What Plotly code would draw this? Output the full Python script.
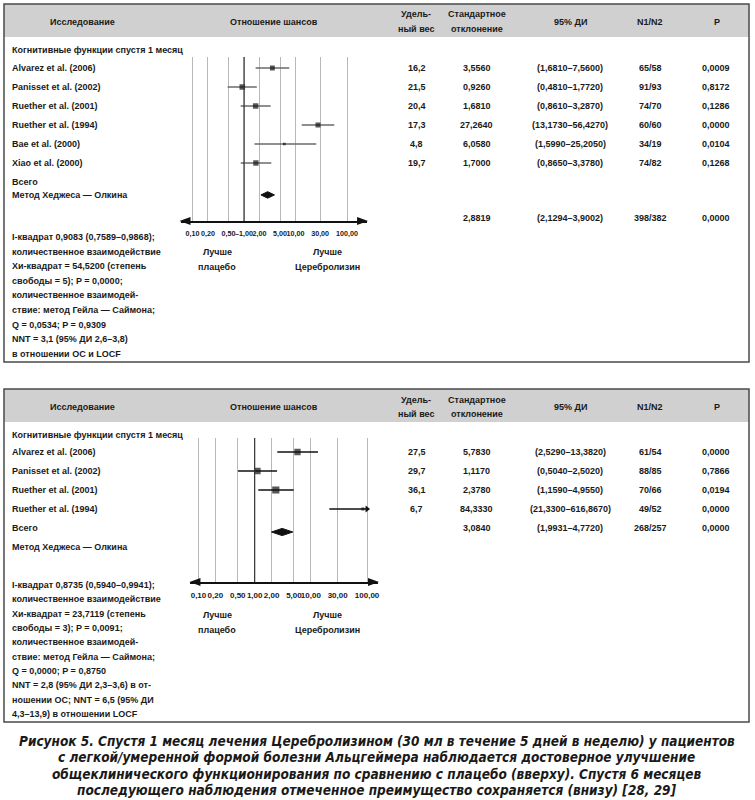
import plotly.graph_objects as go

W, H = 755, 800
FONT = "Liberation Sans, Arial, sans-serif"
CAPFONT = "DejaVu Sans Condensed, Liberation Sans, sans-serif"
TXT = "#1a1a1a"

# ---------------- data: top panel ----------------
top_studies = ["Alvarez et al. (2006)", "Panisset et al. (2002)", "Ruether et al. (2001)",
               "Ruether et al. (1994)", "Bae et al. (2000)", "Xiao et al. (2000)"]
top_weight = [16.2, 21.5, 20.4, 17.3, 4.8, 19.7]
top_or = [3.5560, 0.9260, 1.6810, 27.2640, 6.0580, 1.7000]
top_lo = [1.6810, 0.4810, 0.8610, 13.1730, 1.5990, 0.8650]
top_hi = [7.5600, 1.7720, 3.2870, 56.4270, 25.2050, 3.3780]
top_weight_txt = ["16,2", "21,5", "20,4", "17,3", "4,8", "19,7"]
top_or_txt = ["3,5560", "0,9260", "1,6810", "27,2640", "6,0580", "1,7000"]
top_ci_txt = ["(1,6810–7,5600)", "(0,4810–1,7720)", "(0,8610–3,2870)",
              "(13,1730–56,4270)", "(1,5990–25,2050)", "(0,8650–3,3780)"]
top_n_txt = ["65/58", "91/93", "74/70", "60/60", "34/19", "74/82"]
top_p_txt = ["0,0009", "0,8172", "0,1286", "0,0000", "0,0104", "0,1268"]
top_total = dict(est=2.8819, lo=2.1294, hi=3.9002, or_txt="2,8819",
                 ci_txt="(2,1294–3,9002)", n_txt="398/382", p_txt="0,0000")
top_ticktext = ["0,10", "0,20", "0,50", "–1,00", "2,00", "5,00", "10,00", "30,00", "100,00"]
top_notes = ["I-квадрат 0,9083 (0,7589–0,9868);",
             "количественное взаимодействие",
             "Хи-квадрат = 54,5200 (степень",
             "свободы = 5); P = 0,0000;",
             "количественное взаимодей-",
             "ствие: метод Гейла — Саймона;",
             "Q = 0,0534; P = 0,9309",
             "NNT = 3,1 (95% ДИ 2,6–3,8)",
             "в отношении ОС и LOCF"]

# ---------------- data: bottom panel ----------------
bot_studies = ["Alvarez et al. (2006)", "Panisset et al. (2002)", "Ruether et al. (2001)",
               "Ruether et al. (1994)"]
bot_weight = [27.5, 29.7, 36.1, 6.7]
bot_or = [5.7830, 1.1170, 2.3780, 84.3330]
bot_lo = [2.5290, 0.5040, 1.1590, 21.3300]
bot_hi = [13.3820, 2.5020, 4.9550, 616.8670]
bot_weight_txt = ["27,5", "29,7", "36,1", "6,7"]
bot_or_txt = ["5,7830", "1,1170", "2,3780", "84,3330"]
bot_ci_txt = ["(2,5290–13,3820)", "(0,5040–2,5020)", "(1,1590–4,9550)", "(21,3300–616,8670)"]
bot_n_txt = ["61/54", "88/85", "70/66", "49/52"]
bot_p_txt = ["0,0000", "0,7866", "0,0194", "0,0000"]
bot_total = dict(est=3.0840, lo=1.9931, hi=4.7720, or_txt="3,0840",
                 ci_txt="(1,9931–4,7720)", n_txt="268/257", p_txt="0,0000")
bot_ticktext = ["0,10", "0,20", "0,50", "1,00", "2,00", "5,00", "10,00", "30,00", "100,00"]
bot_notes = ["I-квадрат 0,8735 (0,5940–0,9941);",
             "количественное взаимодействие",
             "Хи-квадрат = 23,7119 (степень",
             "свободы = 3); P = 0,0091;",
             "количественное взаимодей-",
             "ствие: метод Гейла — Саймона;",
             "Q = 0,0000; P = 0,8750",
             "NNT = 2,8 (95% ДИ 2,3–3,6) в от-",
             "ношении ОС; NNT = 6,5 (95% ДИ",
             "4,3–13,9) в отношении LOCF"]

tickvals = [0.1, 0.2, 0.5, 1, 2, 5, 10, 30, 100]
header_cols = [("Исследование",), ("Отношение шансов",), ("Удель-", "ный вес"),
               ("Стандартное", "отклонение"), ("95% ДИ",), ("N1/N2",), ("P",)]
section_title = "Когнитивные функции спустя 1 месяц"
total_label = "Всего"
method_label = "Метод Хеджеса — Олкина"
better_left = ("Лучше", "плацебо")
better_right = ("Лучше", "Церебролизин")
caption = ["Рисунок 5. Спустя 1 месяц лечения Церебролизином (30 мл в течение 5 дней в неделю) у пациентов",
           "с легкой/умеренной формой болезни Альцгеймера наблюдается достоверное улучшение",
           "общеклинического функционирования по сравнению с плацебо (вверху). Спустя 6 месяцев",
           "последующего наблюдения отмеченное преимущество сохраняется (внизу) [28, 29]"]

# ---------------- helpers ----------------
def px(x):
    return x / W

def py(y):
    return 1 - y / H

fig = go.Figure()
ann = []
shapes = []

def text(x, y, s, size=9, anchor="center", yref="paper", xref="paper", bold=True, italic=False, family=FONT):
    t = s
    if italic:
        t = "<i>" + t + "</i>"
    if bold:
        t = "<b>" + t + "</b>"
    ann.append(dict(x=x, y=y, xref=xref, yref=yref, text=t, showarrow=False,
                    xanchor=anchor, yanchor="middle",
                    font=dict(family=family, size=size, color=TXT)))

# column centres (px)
COLX = [83, 275, 417, 478, 572, 652, 719]
COLX_DATA = [418, 478, 572, 652, 718]

def panel(idx, box_top, box_bot, studies, weights, ors, los, his, wtxt, ortxt, citxt, ntxt, ptxt,
          total, ticktext, notes, ydom_px, yrange, xdom_px, xrange_log, total_row, diamond_row,
          method_row, total_text_row, notes_y0, notes_dy, better_y, line_col, dhalf, tick_size):
    xa = "x" if idx == 1 else "x2"
    ya = "y" if idx == 1 else "y2"
    # box and header band
    shapes.append(dict(type="rect", xref="paper", yref="paper", x0=px(4), x1=px(751),
                       y0=py(box_top), y1=py(box_top + 33), fillcolor="#d0d0d0", line=dict(width=0),
                       layer="below"))
    shapes.append(dict(type="rect", xref="paper", yref="paper", x0=px(4), x1=px(751),
                       y0=py(box_top), y1=py(box_bot), line=dict(color="#4a4a4a", width=1.5)))
    # header
    hy = box_top + 18
    for cx, lines in zip(COLX, header_cols):
        if len(lines) == 1:
            text(px(cx), py(hy), lines[0])
        else:
            text(px(cx), py(hy - 7.5), lines[0])
            text(px(cx), py(hy + 7.5), lines[1])
    # section title
    text(px(10), py(box_top + 46), section_title, anchor="left")
    rows = list(range(1, len(studies) + 1))
    # study rows
    for r, s, a, b, c, d, e in zip(rows, studies, wtxt, ortxt, citxt, ntxt, ptxt):
        text(px(10), r, s, anchor="left", yref=ya)
        for cx, v in zip(COLX_DATA, [a, b, c, d, e]):
            text(px(cx), r, v, yref=ya)
    text(px(10), total_row, total_label, anchor="left", yref=ya)
    text(px(10), method_row, method_label, anchor="left", yref=ya)
    for cx, v in zip(COLX_DATA[1:], [total["or_txt"], total["ci_txt"], total["n_txt"], total["p_txt"]]):
        text(px(cx), total_text_row, v, yref=ya)
    # notes
    for i, line in enumerate(notes):
        text(px(10), py(notes_y0 + i * notes_dy), line, anchor="left")
    # better labels
    text(px(218), py(better_y), better_left[0])
    text(px(218), py(better_y + 14.5), better_left[1])
    text(px(328), py(better_y), better_right[0])
    text(px(328), py(better_y + 14.5), better_right[1])

    # CI lines
    xmax = max(tickvals)
    for r, lo, hi in zip(rows, los, his):
        fig.add_trace(go.Scatter(x=[lo, min(hi, xmax)], y=[r, r], mode="lines",
                                 line=dict(color=line_col, width=1.6), xaxis=xa, yaxis=ya,
                                 showlegend=False, hoverinfo="skip"))
        if hi > xmax:
            fig.add_trace(go.Scatter(x=[xmax], y=[r], mode="markers",
                                     marker=dict(symbol="triangle-right", size=6, color="#111"),
                                     xaxis=xa, yaxis=ya, showlegend=False, hoverinfo="skip"))
    # squares
    fig.add_trace(go.Scatter(x=ors, y=rows, mode="markers",
                             marker=dict(symbol="square", color="#111",
                                         size=[1.2 * w ** 0.5 for w in weights], line=dict(width=0)),
                             xaxis=xa, yaxis=ya, showlegend=False, hoverinfo="skip"))
    # diamond
    fig.add_trace(go.Scatter(x=[total["lo"], total["est"], total["hi"], total["est"], total["lo"]],
                             y=[diamond_row, diamond_row - dhalf, diamond_row, diamond_row + dhalf, diamond_row],
                             mode="lines", fill="toself", fillcolor="#111", line=dict(color="#111", width=1),
                             xaxis=xa, yaxis=ya, showlegend=False, hoverinfo="skip"))
    # reference line at 1
    shapes.append(dict(type="line", xref=xa, yref=ya + " domain", x0=1, x1=1, y0=0, y1=1,
                       line=dict(color="#333", width=1.2)))
    # arrow heads on axis
    ay = ydom_px[1]
    l, rr = xdom_px
    shapes.append(dict(type="path", xref="paper", yref="paper",
                       path=f"M {px(l-1)},{py(ay)} L {px(l+10)},{py(ay-4)} L {px(l+10)},{py(ay+4)} Z",
                       fillcolor="#111", line=dict(width=0)))
    shapes.append(dict(type="path", xref="paper", yref="paper",
                       path=f"M {px(rr+1)},{py(ay)} L {px(rr-10)},{py(ay-4)} L {px(rr-10)},{py(ay+4)} Z",
                       fillcolor="#111", line=dict(width=0)))

    axis_x = dict(type="log", domain=[px(xdom_px[0]), px(xdom_px[1])], range=xrange_log,
                  tickvals=tickvals, ticktext=ticktext, tickangle=0, ticks="",
                  tickfont=dict(family=FONT, size=tick_size, color=TXT, weight="bold"),
                  showgrid=True, gridcolor="#b8b8b8", gridwidth=1,
                  showline=True, linecolor="#111", linewidth=2, anchor=ya,
                  ticklabelstandoff=4, fixedrange=True)
    axis_y = dict(domain=[py(ydom_px[1]), py(ydom_px[0])], range=yrange, visible=False,
                  anchor=xa, fixedrange=True)
    return axis_x, axis_y

ax1, ay1 = panel(1, 4, 362, top_studies, top_weight, top_or, top_lo, top_hi, top_weight_txt,
                 top_or_txt, top_ci_txt, top_n_txt, top_p_txt, top_total, top_ticktext, top_notes,
                 ydom_px=(57, 221), yrange=[9.053, 0.421], xdom_px=(181, 368),
                 xrange_log=[-1.232, 2.387], total_row=7, diamond_row=7.68, method_row=7.68,
                 total_text_row=8.9, notes_y0=237, notes_dy=14.6, better_y=252,
                 line_col="#6a6a6a", dhalf=0.17, tick_size=7.2)
ax2, ay2 = panel(2, 389, 722, bot_studies, bot_weight, bot_or, bot_lo, bot_hi, bot_weight_txt,
                 bot_or_txt, bot_ci_txt, bot_n_txt, bot_p_txt, bot_total, bot_ticktext, bot_notes,
                 ydom_px=(438, 582), yrange=[7.842, 0.263], xdom_px=(191, 379),
                 xrange_log=[-1.142, 2.195], total_row=5, diamond_row=5.21, method_row=6,
                 total_text_row=5, notes_y0=585, notes_dy=14.33, better_y=615,
                 line_col="#111", dhalf=0.19, tick_size=8)

# caption
for i, line in enumerate(caption):
    text(px(377.5), py(741 + i * 16.4), line, size=13.5, italic=True, family=CAPFONT)

fig.update_layout(width=W, height=H, margin=dict(l=0, r=0, t=0, b=0),
                  paper_bgcolor="white", plot_bgcolor="rgba(0,0,0,0)",
                  xaxis=ax1, yaxis=ay1, xaxis2=ax2, yaxis2=ay2,
                  annotations=ann, shapes=shapes, showlegend=False)
fig.write_html("out.html", config={"displayModeBar": False},
               post_script="document.body.style.margin='0';")
